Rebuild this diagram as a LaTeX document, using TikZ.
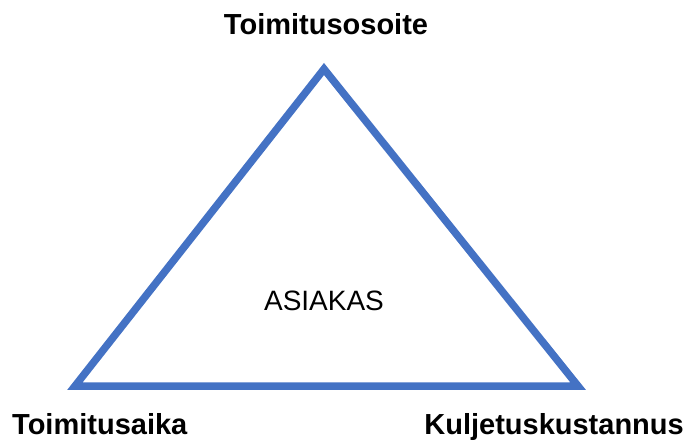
\documentclass[tikz,border=0pt]{standalone}
\usepackage{fontspec}
\setmainfont{Liberation Sans}
\definecolor{triblue}{HTML}{4472C4}
\begin{document}
\begin{tikzpicture}[x=1pt,y=-1pt,
  corner/.style={font=\fontsize{29}{34}\selectfont\bfseries, inner sep=0pt},
  centre/.style={font=\fontsize{28}{33}\selectfont, inner sep=0pt},
  edge/.style={draw=triblue, line width=7.5pt, line join=miter}]
  \useasboundingbox (0,0) rectangle (686,441);
  % triangle corners
  \coordinate (top) at (324,69);
  \coordinate (left) at (75,386);
  \coordinate (right) at (578,386);
  \draw[edge] (top) -- (left) -- (right) -- cycle;
  % labels
  \node[corner, anchor=base] (addr) at (326,35) {Toimitusosoite};
  \node[corner, anchor=base west] (time) at (12,434) {Toimitusaika};
  \node[corner, anchor=base east] (cost) at (684,434) {Kuljetuskustannus};
  \node[centre, anchor=base] (cust) at (324,310) {ASIAKAS};
\end{tikzpicture}
\end{document}
